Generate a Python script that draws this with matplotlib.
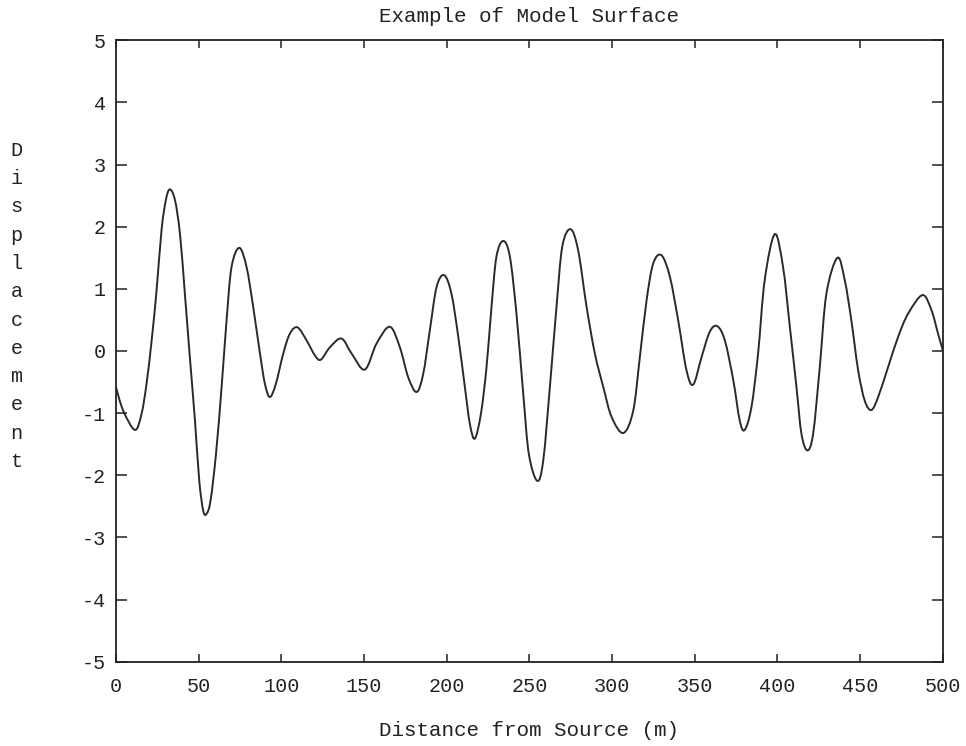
import numpy as np
import matplotlib
matplotlib.use("Agg")
import matplotlib.pyplot as plt
from matplotlib.path import Path
from matplotlib.patches import PathPatch

plt.rcParams["font.family"] = ["Liberation Mono", "DejaVu Sans Mono"]
plt.rcParams["axes.unicode_minus"] = False

# surface profile: distance (m) and displacement samples
distance = [
    0.0, 4.4, 11.5, 15.5, 18.5, 21.6, 24.6, 27.6, 30.2, 32.6,
    35.7, 38.7, 41.7, 44.7, 47.8, 50.4, 52.8, 54.8, 57.2, 60.5,
    63.9, 66.9, 69.9, 74.6, 79.0, 83.0, 87.1, 90.1, 93.1, 96.7,
    101.2, 105.2, 109.8, 115.3, 120.3, 123.9, 129.4, 136.4, 142.5, 150.5,
    157.6, 165.6, 171.7, 176.7, 181.8, 185.8, 189.8, 193.9, 198.5, 202.9,
    207.0, 211.0, 214.0, 217.0, 220.7, 224.1, 227.1, 230.1, 234.2, 238.2,
    242.2, 246.3, 249.7, 254.8, 258.4, 262.4, 266.4, 269.9, 274.9, 279.5,
    284.6, 289.6, 294.7, 299.7, 306.8, 312.8, 316.8, 320.9, 324.9, 329.9,
    335.0, 340.0, 345.0, 349.1, 354.1, 359.1, 363.6, 368.2, 373.3, 377.2,
    380.2, 384.3, 388.3, 392.3, 398.4, 403.4, 407.5, 411.5, 414.5, 418.1,
    421.6, 425.6, 429.6, 436.3, 440.7, 444.7, 448.8, 452.8, 456.8, 460.9,
    466.9, 473.0, 479.0, 487.7, 493.1, 497.1, 500.0,
]
displacement = [
    -0.58, -0.96, -1.27, -1.01, -0.53, 0.17, 0.98, 1.95, 2.43, 2.60,
    2.43, 1.89, 0.92, -0.10, -1.12, -2.09, -2.57, -2.62, -2.41, -1.66,
    -0.58, 0.49, 1.35, 1.66, 1.35, 0.71, -0.04, -0.53, -0.74, -0.53,
    -0.04, 0.28, 0.38, 0.17, -0.07, -0.14, 0.06, 0.20, -0.04, -0.30,
    0.12, 0.39, 0.06, -0.42, -0.66, -0.37, 0.33, 1.03, 1.22, 0.92,
    0.23, -0.58, -1.17, -1.41, -1.01, -0.26, 0.71, 1.52, 1.77, 1.52,
    0.60, -0.69, -1.66, -2.09, -1.76, -0.58, 0.71, 1.68, 1.96, 1.62,
    0.71, -0.04, -0.58, -1.06, -1.32, -0.96, -0.10, 0.82, 1.41, 1.54,
    1.19, 0.49, -0.31, -0.54, -0.10, 0.31, 0.40, 0.17, -0.47, -1.12,
    -1.27, -0.90, -0.04, 1.14, 1.88, 1.35, 0.39, -0.58, -1.33, -1.60,
    -1.33, -0.26, 0.92, 1.50, 1.14, 0.49, -0.31, -0.80, -0.95, -0.74,
    -0.26, 0.23, 0.60, 0.90, 0.66, 0.28, 0.01,
]

x_ticks = [0, 50, 100, 150, 200, 250, 300, 350, 400, 450, 500]
y_ticks = [-5, -4, -3, -2, -1, 0, 1, 2, 3, 4, 5]


def smooth_path(xs, ys):
    # Catmull-Rom through the samples, written as cubic Bezier segments
    p = np.column_stack([xs, ys])
    ext = np.vstack([p[0], p, p[-1]])
    verts = [p[0]]
    codes = [Path.MOVETO]
    for i in range(len(p) - 1):
        p0, p1, p2, p3 = ext[i], ext[i + 1], ext[i + 2], ext[i + 3]
        verts += [p1 + (p2 - p0) / 6.0, p2 - (p3 - p1) / 6.0, p2]
        codes += [Path.CURVE4] * 3
    return Path(verts, codes)


fig = plt.figure(figsize=(9.66, 7.46), dpi=100)
ax = fig.add_axes([0.120, 0.113, 0.856, 0.833])

ax.add_patch(PathPatch(smooth_path(distance, displacement), facecolor="none",
                       edgecolor="#2a2a2a", linewidth=1.4))

ax.set_xlim(0, 500)
ax.set_ylim(-5, 5)
ax.set_xticks(x_ticks)
ax.set_yticks(y_ticks)
ax.tick_params(direction="in", top=True, right=True, labelsize=14.5,
               colors="#222222", width=1.1)
ax.tick_params(axis="y", length=8, pad=7)
ax.tick_params(axis="x", length=6, pad=11)
for spine in ax.spines.values():
    spine.set_linewidth(1.3)
    spine.set_color("#222222")

ax.set_title("Example of Model Surface", fontsize=15, pad=13, color="#222222")
ax.set_xlabel("Distance from Source (m)", fontsize=15, labelpad=18,
              color="#222222")

# vertical stacked y label
fig.text(0.017, 0.590, "\n".join("Displacement"), fontsize=14.5,
         ha="center", va="center", linespacing=1.62, color="#222222")

fig.savefig("out.png", dpi=100)
